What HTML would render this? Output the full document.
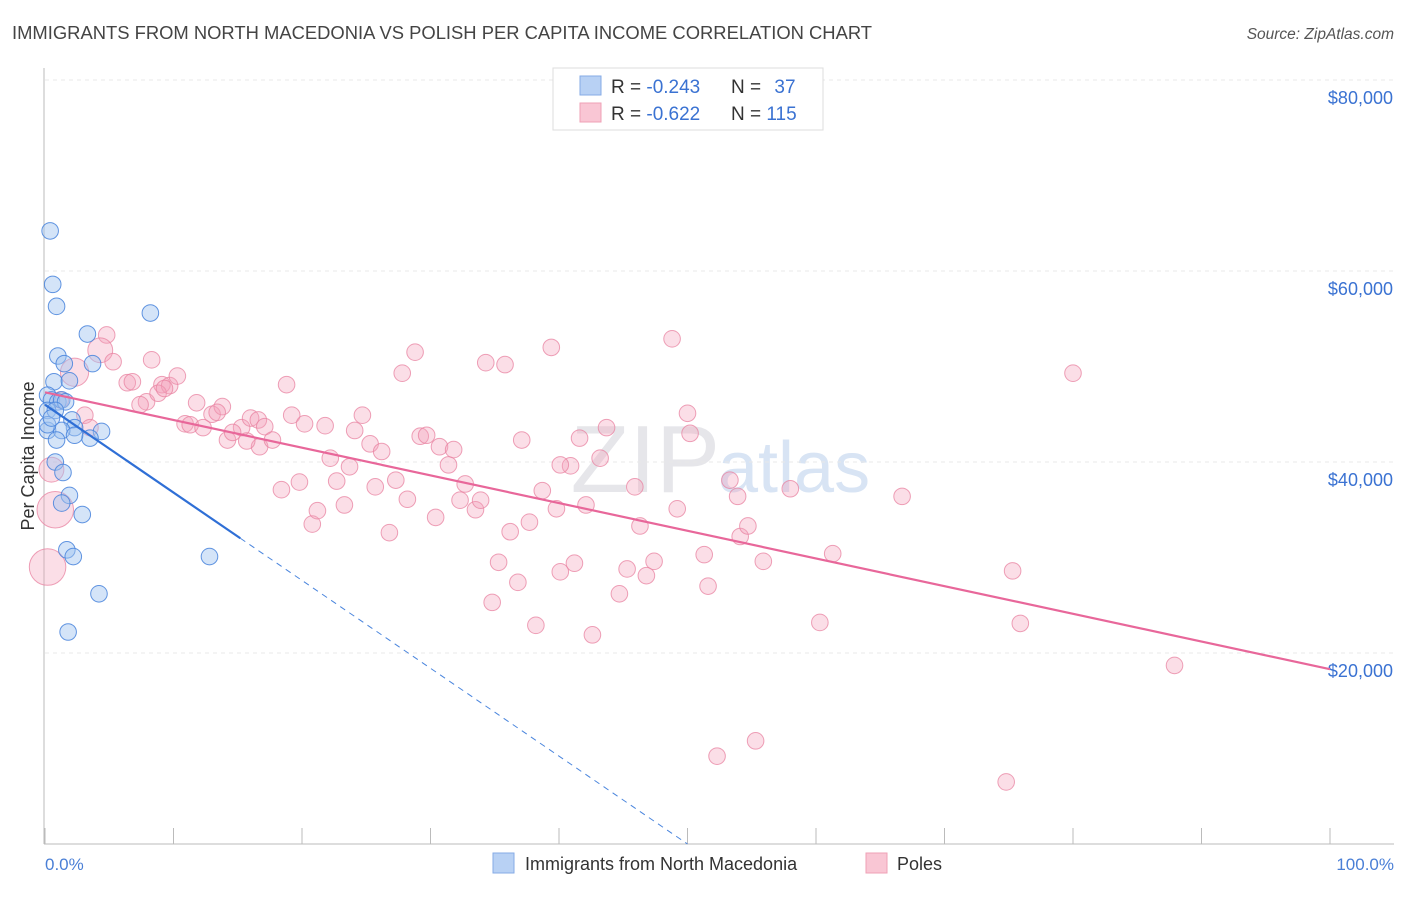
<!DOCTYPE html>
<html><head><meta charset="utf-8"><style>
body{margin:0;background:#fff;font-family:"Liberation Sans",sans-serif;}
svg text{font-family:"Liberation Sans",sans-serif;}
</style></head><body>
<svg id="chart" width="1406" height="892" viewBox="0 0 1406 892" xmlns="http://www.w3.org/2000/svg">
<text x="12" y="39" font-size="18.4" fill="#444">IMMIGRANTS FROM NORTH MACEDONIA VS POLISH PER CAPITA INCOME CORRELATION CHART</text>
<text x="1394" y="39" font-size="15.5" fill="#555" text-anchor="end" font-style="italic">Source: ZipAtlas.com</text>
<text x="720" y="492" font-size="96" fill="#e6e6ea" text-anchor="end" font-family="Liberation Serif">ZIP</text>
<text x="718" y="492" font-size="72" fill="#d8e4f4">atlas</text>
<g id="grid"></g>
<g id="axes"></g>
<g id="pts"></g>
<g id="lines"></g>
<text transform="translate(34,456) rotate(-90)" font-size="18" fill="#333" text-anchor="middle">Per Capita Income</text>
<text x="45" y="870" font-size="17" fill="#4a7fd6">0.0%</text>
<text x="1394" y="870" font-size="17" fill="#4a7fd6" text-anchor="end">100.0%</text>
<g>
<rect x="553" y="68" width="270" height="62" fill="#fff" stroke="#ddd"/>
<rect x="580" y="76" width="21" height="19" fill="#b8d1f4" stroke="#86abe6"/>
<rect x="580" y="103" width="21" height="19" fill="#f9c6d4" stroke="#efa0b6"/>
<text x="611" y="93" font-size="19" fill="#333">R = <tspan fill="#3a72d2">-0.243</tspan></text>
<text x="731" y="93" font-size="19" fill="#333">N = <tspan fill="#3a72d2" dx="8">37</tspan></text>
<text x="611" y="120" font-size="19" fill="#333">R = <tspan fill="#3a72d2">-0.622</tspan></text>
<text x="731" y="120" font-size="19" fill="#333">N = <tspan fill="#3a72d2">115</tspan></text>
</g>
<g>
<rect x="493" y="853" width="21" height="20" fill="#b8d1f4" stroke="#86abe6"/>
<text x="525" y="870" font-size="18" fill="#333">Immigrants from North Macedonia</text>
<rect x="866" y="853" width="21" height="20" fill="#f9c6d4" stroke="#efa0b6"/>
<text x="897" y="870" font-size="18" fill="#333">Poles</text>
</g>
</svg>
<script>
const yTicks=[20000,40000,60000,80000];
const yTickLabels=["$20,000","$40,000","$60,000","$80,000"];
const blueX=[0.4,0.6,0.9,8.2,3.3,1.0,1.5,3.7,0.7,1.9,0.2,0.5,1.0,1.3,1.6,0.2,0.8,2.1,2.3,0.2,1.3,4.4,3.5,0.9,2.3,0.8,1.4,1.9,1.3,2.9,1.7,2.2,12.8,4.2,1.8,0.2,0.5];
const blueY=[64200,58600,56300,55600,53400,51100,50300,50300,48400,48500,47000,46500,46300,46500,46300,45400,45400,44400,43600,43300,43300,43200,42500,42300,42800,40000,38900,36500,35700,34500,30800,30100,30100,26200,22200,43900,44600];
const pinkX=[4.8,4.3,5.3,8.3,2.3,6.4,6.8,9.1,9.7,10.3,7.9,8.8,11.8,13.0,13.8,10.9,11.3,12.3,14.2,15.3,16.0,16.6,16.7,17.1,17.7,18.8,19.2,20.2,21.8,18.4,19.8,20.8,21.2,22.2,22.7,23.3,23.7,24.1,24.7,25.3,25.7,26.2,26.8,27.3,27.8,28.2,28.8,29.2,29.7,30.4,30.7,31.4,31.8,32.3,32.7,33.5,33.9,34.3,34.8,35.3,35.8,36.2,36.8,37.1,37.7,38.2,38.7,39.4,39.8,40.1,40.9,41.2,41.6,42.1,42.6,43.2,43.7,44.7,45.3,45.9,46.3,46.8,47.4,48.8,49.2,50.0,50.2,51.3,51.6,52.3,53.3,53.9,54.1,54.7,55.3,55.9,58.0,60.3,61.3,66.7,75.3,75.9,80.0,87.9,74.8,40.1,15.7,14.6,13.4,9.3,7.4,3.1,3.5,1.2,0.5,0.8,0.2];
const pinkY=[53300,51700,50500,50700,49400,48300,48400,48100,48000,49000,46300,47200,46200,45000,45800,44000,43900,43600,42300,43600,44600,44400,41600,43700,42300,48100,44900,44000,43800,37100,37900,33500,34900,40400,38000,35500,39500,43300,44900,41900,37400,41100,32600,38100,49300,36100,51500,42700,42800,34200,41600,39700,41300,36000,37700,35000,36000,50400,25300,29500,50200,32700,27400,42300,33700,22900,37000,52000,35100,28500,39600,29400,42500,35500,21900,40400,43600,26200,28800,37400,33300,28100,29600,52900,35100,45100,43000,30300,27000,9200,38100,36400,32200,33300,10800,29600,37200,23200,30400,36400,28600,23100,49300,18700,6500,39700,42200,43100,45200,47700,46000,44900,43600,46500,39200,35000,29000];
const pinkSize=[1,1.5,1,1,1.7,1,1,1,1,1,1,1,1,1,1,1,1,1,1,1,1,1,1,1,1,1,1,1,1,1,1,1,1,1,1,1,1,1,1,1,1,1,1,1,1,1,1,1,1,1,1,1,1,1,1,1,1,1,1,1,1,1,1,1,1,1,1,1,1,1,1,1,1,1,1,1,1,1,1,1,1,1,1,1,1,1,1,1,1,1,1,1,1,1,1,1,1,1,1,1,1,1,1,1,1,1,1,1,1,1,1,1,1,1,1.5,2.2,2.2,2.2];
const blueTrend=[46000,-920];
const pinkTrend=[47300,-290];
const blueSolidEnd=15.2;

const X=v=>45+v*12.85, Y=v=>844-v*191/20000;
const NS="http://www.w3.org/2000/svg";
function mk(p,t,a){const e=document.createElementNS(NS,t);for(const k in a)e.setAttribute(k,a[k]);p.appendChild(e);return e;}
const grid=document.getElementById('grid'),axes=document.getElementById('axes'),pts=document.getElementById('pts'),lines=document.getElementById('lines');
yTicks.forEach((t,i)=>{
 const l=mk(grid,'line',{x1:45,x2:1394,y1:Y(t),y2:Y(t),stroke:'#e8e8e8','stroke-dasharray':'4,4'});
 
 
 const tx=mk(axes,'text',{x:1393,y:Y(t)+24,'font-size':18,fill:'#3a72d2','text-anchor':'end'});
 tx.textContent=yTickLabels[i];
 
 
});
let ax=mk(axes,'line',{x1:44,x2:44,y1:68,y2:844,stroke:'#bbb'});


let bx=mk(axes,'line',{x1:44,x2:1394,y1:844,y2:844,stroke:'#bbb'});


for(let i=0;i<=10;i++){
 const t=mk(axes,'line',{x1:X(i*10),x2:X(i*10),y1:828,y2:844,stroke:'#bbb'});
 
 
}
pinkX.forEach((x,i)=>{
 const c=mk(pts,'circle',{cx:X(x),cy:Y(pinkY[i]),r:8.3*(pinkSize[i]||1),fill:'rgba(244,160,185,0.35)',stroke:'rgba(232,130,160,0.75)','stroke-width':1});
 
 
});
blueX.forEach((x,i)=>{
 const c=mk(pts,'circle',{cx:X(x),cy:Y(blueY[i]),r:8.3,fill:'rgba(160,195,240,0.45)',stroke:'rgba(70,130,220,0.85)','stroke-width':1});
 
 
});
const pl=mk(lines,'line',{x1:X(0),y1:Y(pinkTrend[0]),x2:X(100),y2:Y(pinkTrend[0]+100*pinkTrend[1]),stroke:'#e8679a','stroke-width':2.2});


const bs=mk(lines,'line',{x1:X(0),y1:Y(blueTrend[0]),x2:X(blueSolidEnd),y2:Y(blueTrend[0]+blueSolidEnd*blueTrend[1]),stroke:'#2f6fd6','stroke-width':2.2});


const xEnd=-blueTrend[0]/blueTrend[1];
const bd=mk(lines,'line',{x1:X(blueSolidEnd),y1:Y(blueTrend[0]+blueSolidEnd*blueTrend[1]),x2:X(xEnd),y2:Y(0),stroke:'#4a85dd','stroke-width':1,'stroke-dasharray':'6,5'});


</script>
</body></html>
